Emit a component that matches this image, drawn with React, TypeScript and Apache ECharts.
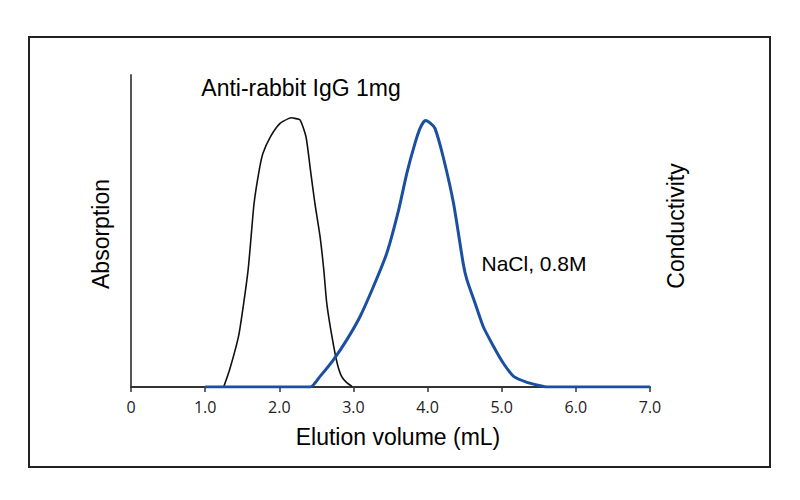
import React, { useEffect, useRef } from "react";
import * as echarts from "echarts";

// Elution volume (mL) and absorption (relative) for Anti-rabbit IgG
const iggX = [1.25, 1.33, 1.45, 1.52, 1.58, 1.62, 1.66, 1.73, 1.78, 1.88, 2.01, 2.13, 2.17, 2.21, 2.28, 2.36, 2.42, 2.48, 2.55, 2.6, 2.64, 2.71, 2.78, 2.84, 2.91, 2.98];
const iggY = [0, 5.5, 16.2, 26.9, 37.6, 48.2, 58.9, 69.6, 74.9, 80.2, 84.5, 86.1, 86.3, 86.1, 85.6, 80.2, 69.6, 58.9, 48.2, 37.6, 26.9, 16.2, 7.7, 3.4, 1.4, 0.2];

// Elution volume (mL) and conductivity (relative) for NaCl 0.8M
const naclX = [1.0, 2.42, 2.55, 2.73, 2.91, 3.09, 3.27, 3.45, 3.61, 3.72, 3.83, 3.9, 3.97, 4.04, 4.1, 4.21, 4.35, 4.48, 4.53, 4.64, 4.75, 4.89, 5.02, 5.16, 5.34, 5.52, 5.61, 7.0];
const naclY = [0, 0, 3.4, 8.7, 15.1, 22.6, 32.2, 42.9, 56.8, 68.5, 78.1, 83.0, 85.4, 84.5, 82.9, 73.8, 58.9, 39.7, 34.4, 26.9, 19.4, 13.0, 7.7, 3.4, 1.5, 0.4, 0, 0];

const xTicks = [0, 1, 2, 3, 4, 5, 6, 7];

const toPairs = (xs: number[], ys: number[]) => xs.map((x, i) => [x, ys[i]]);

export default function App() {
  const ref = useRef<HTMLDivElement>(null);
  useEffect(() => {
    if (!ref.current) return;
    const chart = echarts.init(ref.current, null, { renderer: "svg" });
    chart.setOption({
      animation: false,
      backgroundColor: "#ffffff",
      grid: { left: 131, top: 75, width: 519, height: 312 },
      xAxis: {
        type: "value",
        min: xTicks[0],
        max: xTicks[xTicks.length - 1],
        interval: 1,
        axisLine: { show: true, onZero: false, lineStyle: { color: "#333", width: 2 } },
        axisTick: { show: true, length: 5, lineStyle: { color: "#333", width: 1.5 } },
        axisLabel: {
          margin: 12,
          color: "#222",
          fontSize: 16,
          fontFamily: "Open Sans",
          formatter: (v: number) => (v === 0 ? "0" : v.toFixed(1)),
        },
        splitLine: { show: false },
      },
      yAxis: {
        type: "value",
        min: 0,
        max: 100,
        axisLine: { show: true, lineStyle: { color: "#555", width: 2 } },
        axisTick: { show: false },
        axisLabel: { show: false },
        splitLine: { show: false },
      },
      series: [
        {
          name: "Anti-rabbit IgG 1mg",
          type: "line",
          data: toPairs(iggX, iggY),
          showSymbol: false,
          smooth: 0.2,
          lineStyle: { color: "#111", width: 1.6 },
        },
        {
          name: "NaCl, 0.8M",
          type: "line",
          data: toPairs(naclX, naclY),
          showSymbol: false,
          smooth: 0.2,
          lineStyle: { color: "#1b4f9f", width: 3 },
        },
      ],
      graphic: [
        {
          type: "rect",
          shape: { x: 29, y: 37, width: 741, height: 430 },
          style: { fill: "none", stroke: "#222", lineWidth: 2 },
          silent: true,
        },
        {
          type: "text",
          x: 301,
          y: 88,
          style: { text: "Anti-rabbit IgG 1mg", fontSize: 23, fontFamily: "Liberation Sans", fill: "#000", align: "center", verticalAlign: "middle" },
        },
        {
          type: "text",
          x: 534,
          y: 263,
          style: { text: "NaCl, 0.8M", fontSize: 21, fontFamily: "Liberation Sans", fill: "#000", align: "center", verticalAlign: "middle" },
        },
        {
          type: "text",
          x: 101,
          y: 234,
          rotation: Math.PI / 2,
          style: { text: "Absorption", fontSize: 23, fontFamily: "Liberation Sans", fill: "#000", align: "center", verticalAlign: "middle" },
        },
        {
          type: "text",
          x: 676,
          y: 226,
          rotation: Math.PI / 2,
          style: { text: "Conductivity", fontSize: 23, fontFamily: "Liberation Sans", fill: "#000", align: "center", verticalAlign: "middle" },
        },
        {
          type: "text",
          x: 398,
          y: 437,
          style: { text: "Elution volume (mL)", fontSize: 23, fontFamily: "Liberation Sans", fill: "#000", align: "center", verticalAlign: "middle" },
        },
      ],
    });
    return () => chart.dispose();
  }, []);
  return <div ref={ref} style={{ position: "fixed", left: 0, top: 0, width: 800, height: 500 }} />;
}
